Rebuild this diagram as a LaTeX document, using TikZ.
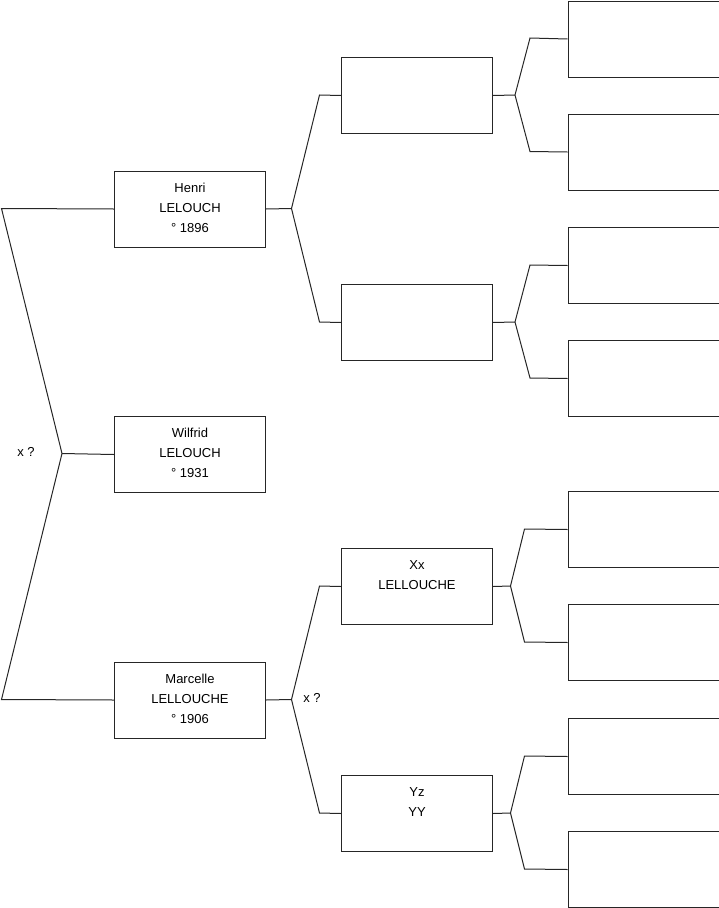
\documentclass[tikz,border=0pt]{standalone}
\usepackage{fontspec}
\setmainfont{Liberation Sans}
\begin{document}
\begin{tikzpicture}[x=1pt,y=-1pt,
  line width=1pt, draw=black!85,
  pbox/.style={draw=black!85, line width=1pt, rectangle, minimum width=151pt, minimum height=76pt, inner sep=0pt, anchor=north west},
  ptxt/.style={anchor=north, yshift=-11.7pt, inner sep=0pt, align=center, font=\fontsize{13}{20}\selectfont},
  lbl/.style={inner sep=0pt, font=\fontsize{13}{20}\selectfont},
  conn/.style={draw=black!85, line width=1pt}]
\useasboundingbox (0,0) rectangle (719,908);

% column 1
\node[pbox, label={[ptxt]north:Henri\\LELOUCH\\° 1896}] (henri) at (114,170.5) {};
\node[pbox, label={[ptxt]north:Wilfrid\\LELOUCH\\° 1931}] (wilfrid) at (114,416) {};
\node[pbox, label={[ptxt]north:Marcelle\\LELLOUCHE\\° 1906}] (marcelle) at (114,661.5) {};

% column 2
\node[pbox] (a) at (341,57) {};
\node[pbox] (b) at (341,284) {};
\node[pbox, label={[ptxt]north:Xx\\LELLOUCHE}] (xx) at (341,548) {};
\node[pbox, label={[ptxt]north:Yz\\YY}] (yz) at (341,775) {};

% column 3
\node[pbox] (a1) at (567.5,0.5) {};
\node[pbox] (a2) at (567.5,113.5) {};
\node[pbox] (b1) at (567.5,227) {};
\node[pbox] (b2) at (567.5,340) {};
\node[pbox] (x1) at (567.5,491) {};
\node[pbox] (x2) at (567.5,604) {};
\node[pbox] (y1) at (567.5,718) {};
\node[pbox] (y2) at (567.5,831) {};

% left family connector
\coordinate (j0) at (62,453.5);
\coordinate (lt) at (1.5,208.5);
\coordinate (lb) at (1.5,699.5);
\draw[conn] (henri.west) -- (lt) -- (j0) -- (lb) -- (marcelle.west);
\draw[conn] (j0) -- (wilfrid.west);
\node[lbl] (xq1) at (26,452) {x ?};

% Henri parents
\coordinate (jh) at (291.5,208.5);
\draw[conn] (henri.east) -- (jh);
\draw[conn] (a.west) -- (319.5,95) -- (jh) -- (319.5,322) -- (b.west);

% Marcelle parents
\coordinate (jm) at (291.5,699.5);
\draw[conn] (marcelle.east) -- (jm);
\draw[conn] (xx.west) -- (319.5,586) -- (jm) -- (319.5,813) -- (yz.west);
\node[lbl] (xq2) at (312,697.5) {x ?};

% third generation
\coordinate (ja) at (515,95);
\draw[conn] (a.east) -- (ja);
\draw[conn] (a1.west) -- (530,38) -- (ja) -- (530,151.5) -- (a2.west);

\coordinate (jb) at (515,322);
\draw[conn] (b.east) -- (jb);
\draw[conn] (b1.west) -- (530,265) -- (jb) -- (530,378) -- (b2.west);

\coordinate (jx) at (510.5,586);
\draw[conn] (xx.east) -- (jx);
\draw[conn] (x1.west) -- (524.5,529) -- (jx) -- (524.5,642) -- (x2.west);

\coordinate (jy) at (510.5,813);
\draw[conn] (yz.east) -- (jy);
\draw[conn] (y1.west) -- (524.5,756) -- (jy) -- (524.5,869) -- (y2.west);
\end{tikzpicture}
\end{document}
